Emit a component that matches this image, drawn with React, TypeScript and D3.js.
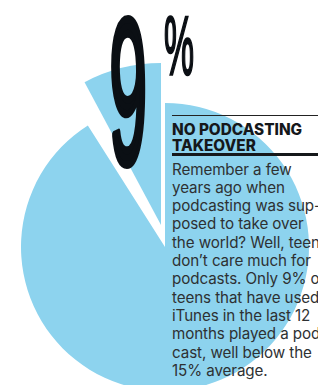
import { useEffect, useRef } from 'react';
import * as d3 from 'd3';

// teens who used iTunes in the last 12 months
const shareNames = ['Played a podcast', 'Did not'];
const shareValues = [9, 91];

const bigNumber = '9';
const bigUnit = '%';
const titleLines = ['NO PODCASTING', 'TAKEOVER'];
const bodyLines = [
    'Remember a few',
    'years ago when',
    'podcasting was sup-',
    'posed to take over',
    'the world? Well, teens',
    'don\u2019t care much for',
    'podcasts. Only 9% of',
    'teens that have used',
    'iTunes in the last 12',
    'months played a pod-',
    'cast, well below the',
    '15% average.',
];

// stretch a glyph so its ink fills a box (measured on a canvas)
const fitText = (text: string, weight: number, family: string, box: { x: number; y: number; w: number; h: number }) => {
    const ctx = document.createElement('canvas').getContext('2d')!;
    ctx.font = `${weight} 100px ${family}`;
    const m = ctx.measureText(text);
    const x0 = -m.actualBoundingBoxLeft;
    const inkW = m.actualBoundingBoxRight + m.actualBoundingBoxLeft;
    const inkH = m.actualBoundingBoxAscent + m.actualBoundingBoxDescent;
    const sx = box.w / inkW;
    const sy = box.h / inkH;
    return `translate(${box.x - x0 * sx},${box.y + m.actualBoundingBoxAscent * sy}) scale(${sx},${sy})`;
};

const App = () => {
    const svgRef = useRef<SVGSVGElement>(null);

    useEffect(() => {
        if (!svgRef.current) return;
        const svg = d3.select(svgRef.current);
        svg.selectAll('*').remove();

        const blue = '#8dd3ee';
        const ink = '#0b0f14';

        // pie turned so the small share ends at 12 o'clock
        const total = d3.sum(shareValues);
        const turn = -2 * Math.PI * shareValues[0] / total;
        const pie = d3.pie<number>().sort(null)
            .startAngle(turn)
            .endAngle(2 * Math.PI + turn);
        const slices = pie(shareValues);

        const arc = d3.arc<d3.PieArcDatum<number>>().innerRadius(0);

        // the big share
        svg.append('path')
            .attr('transform', 'translate(165,247)')
            .attr('d', arc.outerRadius(144)(slices[1]))
            .attr('fill', blue);

        // the small share, pulled out and enlarged
        const gap = 0.074;
        svg.append('path')
            .attr('transform', 'translate(161,225)')
            .attr('d', arc.outerRadius(162)({ ...slices[0], startAngle: slices[0].startAngle + gap }))
            .attr('fill', blue)
            .append('title').text(shareNames[0]);

        // big 9 %  (stroke thickens the narrowed stems)
        const numFont = '"Liberation Sans", sans-serif';
        const numStroke = 6;
        svg.append('text')
            .attr('transform', fitText(bigNumber, 400, numFont,
                { x: 109 + numStroke / 2, y: 16 + numStroke / 2, w: 38 - numStroke, h: 152 - numStroke }))
            .attr('font-family', numFont)
            .attr('font-weight', 400)
            .attr('font-size', 100)
            .attr('fill', ink)
            .attr('stroke', ink)
            .attr('stroke-width', numStroke)
            .attr('stroke-linejoin', 'round')
            .attr('vector-effect', 'non-scaling-stroke')
            .text(bigNumber);

        svg.append('text')
            .attr('transform', fitText(bigUnit, 400, numFont, { x: 165, y: 17, w: 28, h: 59 }))
            .attr('font-family', numFont)
            .attr('font-weight', 400)
            .attr('font-size', 100)
            .attr('fill', ink)
            .attr('stroke', ink)
            .attr('stroke-width', 2)
            .attr('vector-effect', 'non-scaling-stroke')
            .text(bigUnit);

        // text column
        const left = 172;
        svg.append('line')
            .attr('x1', left).attr('x2', 318)
            .attr('y1', 115.5).attr('y2', 115.5)
            .attr('stroke', '#222').attr('stroke-width', 1.2);

        svg.append('g')
            .selectAll('text')
            .data(titleLines)
            .join('text')
            .attr('x', left)
            .attr('y', (d, i) => 135 + i * 15.5)
            .attr('font-family', 'Inter, sans-serif')
            .attr('font-weight', 800)
            .attr('font-size', 15.3)
            .attr('fill', '#15181b')
            .text(d => d);

        svg.append('line')
            .attr('x1', left).attr('x2', 318)
            .attr('y1', 154.5).attr('y2', 154.5)
            .attr('stroke', '#15181b').attr('stroke-width', 3);

        svg.append('g')
            .selectAll('text')
            .data(bodyLines)
            .join('text')
            .attr('x', left)
            .attr('y', (d, i) => 174.5 + i * 18.3)
            .attr('font-family', 'Inter, sans-serif')
            .attr('font-size', 15.2)
            .attr('letter-spacing', -0.1)
            .attr('fill', '#2e3133')
            .text(d => d);
    }, []);

    return (
        <svg ref={svgRef} width={318} height={385}
            style={{ position: 'absolute', left: 0, top: 0, background: '#fff' }} />
    );
};

export default App;
